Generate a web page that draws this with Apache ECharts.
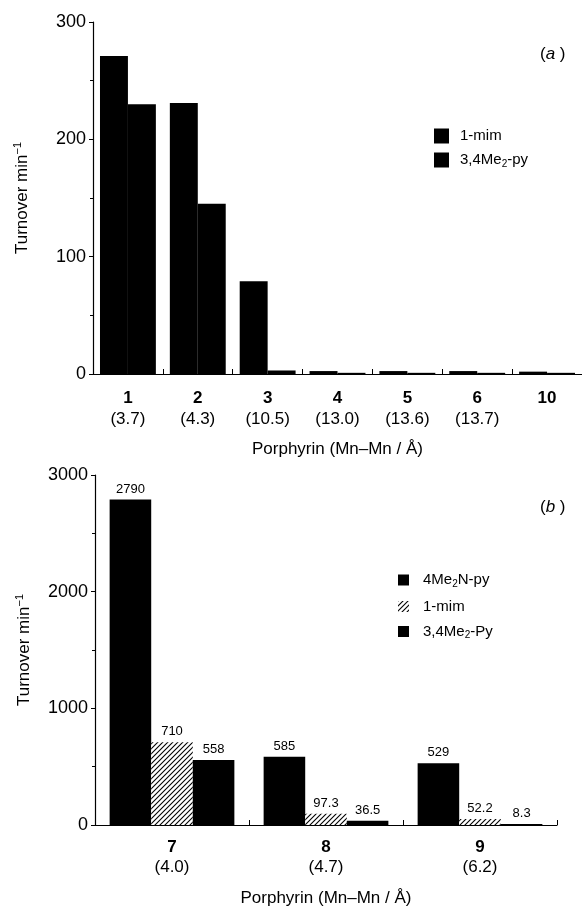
<!DOCTYPE html>
<html>
<head>
<meta charset="utf-8">
<script src="https://cdn.jsdelivr.net/npm/echarts@6/dist/echarts.min.js"></script>
<style>
html,body{margin:0;padding:0;background:#fff;}
#c{width:582px;height:910px;}
</style>
</head>
<body>
<div id="c"></div>
<script>
// ---- Panel (a) data ----
const catsA = ['1', '2', '3', '4', '5', '6', '10'];
const distA = ['3.7', '4.3', '10.5', '13.0', '13.6', '13.7', ''];
const mimA = [271, 231, 79, 2.5, 2.5, 2.5, 2];
const pyA = [230, 145, 3, 1, 1, 1, 1];
const ticksA = [0, 100, 200, 300];

// ---- Panel (b) data ----
const catsB = ['7', '8', '9'];
const distB = ['4.0', '4.7', '6.2'];
const me2nB = [2790, 585, 529];
const mimB = [710, 97.3, 52.2];
const pyB = [558, 36.5, 8.3];
const ticksB = [0, 1000, 2000, 3000];

const FONT = '"Liberation Sans", Arial, Helvetica, sans-serif';

// hatch pattern
const pc = document.createElement('canvas');
pc.width = 5; pc.height = 5;
const px = pc.getContext('2d');
px.fillStyle = '#fff'; px.fillRect(0, 0, 5, 5);
px.strokeStyle = '#000'; px.lineWidth = 1.1;
px.beginPath();
px.moveTo(0, 5); px.lineTo(5, 0);
px.moveTo(-1, 1); px.lineTo(1, -1);
px.moveTo(4, 6); px.lineTo(6, 4);
px.stroke();
const hatch = { image: pc, repeat: 'repeat' };

const catRich = (lh) => ({
  b: { fontSize: 17, fontWeight: 'bold', lineHeight: lh, color: '#000', fontFamily: FONT },
  p: { fontSize: 17, lineHeight: lh, color: '#000', fontFamily: FONT }
});

const nameRich = {
  n: { fontSize: 17, lineHeight: 20, color: '#000', fontFamily: FONT },
  s: { fontSize: 11, lineHeight: 10, verticalAlign: 'top', color: '#000', fontFamily: FONT }
};

const legendRich = {
  n: { fontSize: 15, lineHeight: 18, color: '#000', fontFamily: FONT },
  sub: { fontSize: 10, lineHeight: 8, verticalAlign: 'bottom', color: '#000', fontFamily: FONT }
};
const legendFmt = {
  '1-mim': '{n|1-mim}',
  '1-mim ': '{n|1-mim}',
  '3,4Me2-py': '{n|3,4Me}{sub|2}{n|-py}',
  '4Me2N-py': '{n|4Me}{sub|2}{n|N-py}',
  '3,4Me2-Py': '{n|3,4Me}{sub|2}{n|-Py}'
};

const axisLine = { show: true, lineStyle: { color: '#000', width: 1.2 } };

function yAxis(gi, ticks, gap) {
  return {
    type: 'value', gridIndex: gi, min: ticks[0], max: ticks[ticks.length - 1],
    interval: ticks[1] - ticks[0],
    axisLine: axisLine,
    axisTick: { show: true, length: 4, lineStyle: { color: '#000' } },
    minorTick: { show: true, splitNumber: 2, length: 3, lineStyle: { color: '#000' } },
    splitLine: { show: false },
    axisLabel: { fontSize: 18, color: '#000', fontFamily: FONT, margin: 7, formatter: (v) => String(v) },
    name: '{n|Turnover min}{s|−1}',
    nameLocation: 'middle', nameRotate: 90, nameGap: gap,
    nameTextStyle: { rich: nameRich }
  };
}

function xAxis(gi, cats, dist, margin, lh, gap) {
  return {
    type: 'category', gridIndex: gi, data: cats,
    axisLine: axisLine,
    axisTick: { show: true, inside: true, length: 5, lineStyle: { color: '#000' } },
    axisLabel: {
      margin: margin, interval: 0,
      formatter: (v, i) => '{b|' + v + '}\n{p|' + (dist[i] ? '(' + dist[i] + ')' : ' ') + '}',
      rich: catRich(lh)
    },
    name: 'Porphyrin (Mn–Mn / Å)',
    nameLocation: 'middle', nameGap: gap,
    nameTextStyle: { fontSize: 17, color: '#000', fontFamily: FONT }
  };
}

const barLabel = {
  show: true, position: 'top', distance: 4, fontSize: 13, color: '#000', fontFamily: FONT,
  formatter: (p) => String(p.value)
};

const option = {
  backgroundColor: '#fff',
  animation: false,
  grid: [
    { left: 93, top: 22, width: 489, height: 352 },
    { left: 95, top: 475, width: 462, height: 350 }
  ],
  xAxis: [
    xAxis(0, catsA, distA, 14, 21, 67),
    xAxis(1, catsB, distB, 12, 20, 65)
  ],
  yAxis: [
    yAxis(0, ticksA, 61),
    yAxis(1, ticksB, 61)
  ],
  legend: [
    {
      data: ['1-mim', '3,4Me2-py'], orient: 'vertical', left: 429, top: 123.5,
      icon: 'rect', itemWidth: 15, itemHeight: 15, itemGap: 9, selectedMode: false,
      formatter: (n) => legendFmt[n],
      textStyle: { rich: legendRich, padding: [0, 0, 0, 6] }
    },
    {
      data: ['4Me2N-py', '1-mim ', '3,4Me2-Py'], orient: 'vertical', left: 393, top: 567.5,
      icon: 'rect', itemWidth: 11, itemHeight: 11, itemGap: 10, selectedMode: false,
      formatter: (n) => legendFmt[n],
      textStyle: { rich: legendRich, padding: [0, 0, 0, 9] }
    }
  ],
  graphic: [
    {
      type: 'text', left: 540, top: 46,
      style: {
        text: '({i|a} )', fontSize: 17, fill: '#000', fontFamily: FONT,
        rich: { i: { fontSize: 17, fontStyle: 'italic', fontFamily: FONT } }
      }
    },
    {
      type: 'text', left: 540, top: 499,
      style: {
        text: '({i|b} )', fontSize: 17, fill: '#000', fontFamily: FONT,
        rich: { i: { fontSize: 17, fontStyle: 'italic', fontFamily: FONT } }
      }
    }
  ],
  series: [
    { name: '1-mim', type: 'bar', xAxisIndex: 0, yAxisIndex: 0, data: mimA,
      barGap: '0%', barCategoryGap: '20%', itemStyle: { color: '#000' } },
    { name: '3,4Me2-py', type: 'bar', xAxisIndex: 0, yAxisIndex: 0, data: pyA,
      barGap: '0%', barCategoryGap: '20%', itemStyle: { color: '#000' } },
    { name: '4Me2N-py', type: 'bar', xAxisIndex: 1, yAxisIndex: 1, data: me2nB,
      barGap: '0%', barCategoryGap: '19%', itemStyle: { color: '#000' }, label: barLabel },
    { name: '1-mim ', type: 'bar', xAxisIndex: 1, yAxisIndex: 1, data: mimB,
      barGap: '0%', barCategoryGap: '19%', itemStyle: { color: hatch }, label: barLabel },
    { name: '3,4Me2-Py', type: 'bar', xAxisIndex: 1, yAxisIndex: 1, data: pyB,
      barGap: '0%', barCategoryGap: '19%', itemStyle: { color: '#000' }, label: barLabel }
  ]
};

const chart = echarts.init(document.getElementById('c'), null, { renderer: 'canvas' });
chart.setOption(option);
</script>
</body>
</html>
